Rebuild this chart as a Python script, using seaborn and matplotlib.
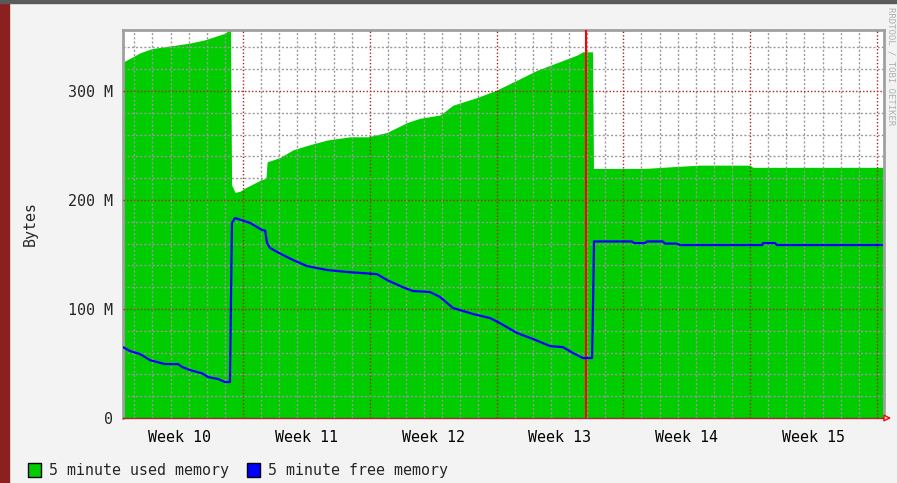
import numpy as np
import pandas as pd
import matplotlib
matplotlib.use("Agg")
import matplotlib.pyplot as plt
from matplotlib.patches import Rectangle, Patch
import seaborn as sns

# x in days from the start of week 10, memory in MB
used_days = [0.375, 0.76, 1.31, 1.98, 3.25, 4.07, 4.90, 5.45, 6.00, 6.31,
             6.37, 6.56, 6.83, 7.11, 7.94, 8.27, 8.33, 9.04, 9.76, 10.53,
             11.64, 12.91, 13.90, 14.95, 16.05, 16.77, 17.88, 18.59, 19.92, 21.02,
             22.13, 23.23, 24.34, 25.44, 25.77, 26.30, 26.35, 29.19, 31.13, 32.23,
             34.99, 35.15, 42.39]
used_mb = [326.6, 330, 335, 339, 342, 344, 347, 350, 353, 357,
           214, 207, 208, 211, 218, 220, 235, 239, 246, 250,
           255, 258, 258, 262, 271, 275, 278, 287, 294, 301,
           310, 319, 326, 333, 336, 336, 229, 229, 231, 232,
           232, 230, 230]

free_days = [0.375, 0.76, 1.31, 1.59, 1.87, 2.25, 2.69, 3.41, 3.64, 4.07,
             4.74, 5.07, 5.62, 6.00, 6.28, 6.39, 6.56, 6.83, 7.39, 8.05,
             8.22, 8.33, 8.49, 9.04, 9.76, 10.53, 11.64, 12.74, 14.40, 14.95,
             15.83, 16.38, 17.32, 17.88, 18.59, 19.70, 20.64, 21.19, 22.13, 23.01,
             23.95, 24.67, 25.22, 25.77, 26.27, 26.33, 26.38, 28.48, 28.59, 29.19,
             29.30, 30.18, 30.30, 30.96, 31.13, 35.66, 35.71, 36.37, 36.48, 42.28]
free_mb = [65, 61.5, 58.7, 56, 53, 51.4, 49.5, 49.5, 46.8, 44,
           41, 37.6, 35.8, 33, 33, 179, 183.5, 182, 179, 172.5,
           172, 160.5, 156, 151, 145, 139.4, 135.8, 134, 132, 126.6,
           120, 116.5, 115.6, 111, 101, 95.4, 91.7, 87, 78, 72.5,
           66, 65, 59.6, 55, 55, 108, 162, 162, 160.5, 160.5,
           162, 162, 160, 160, 158.7, 158.7, 160.5, 160.5, 158.7, 158.7]

week_labels = ["Week 10", "Week 11", "Week 12", "Week 13", "Week 14", "Week 15"]
y_labels = ["0", "100 M", "200 M", "300 M"]
legend_labels = ["5 minute used memory", "5 minute free memory"]
vrule_day = 25.93

sns.set_style("white")
plt.rcParams['font.family'] = ['DejaVu Sans Mono']

bg = "#f3f3f3"
fig = plt.figure(figsize=(8.97, 4.83), dpi=100, facecolor=bg)
ax = fig.add_axes([123 / 897, 65 / 483, 761 / 897, 388 / 483])
ax.set_facecolor("white")

# used memory area and free memory line
ax.fill_between(used_days, used_mb, 0, color="#00cc00", lw=0, zorder=1)
free_df = pd.DataFrame({"day": free_days, "mb": free_mb})
sns.lineplot(data=free_df, x="day", y="mb", ax=ax, color="#0000ff",
             linewidth=1.6, estimator=None, sort=False, zorder=4)
ax.axvline(vrule_day, color="#ff0000", lw=1.5, zorder=3)

ax.set_xlim(0.375, 42.39)
ax.set_ylim(0, 356)

# grid
ax.set_xticks(np.arange(7, 43, 7))
ax.set_xticks(np.arange(1, 43, 1), minor=True)
ax.set_yticks([0, 100, 200, 300])
ax.set_yticks(np.arange(20, 356, 20), minor=True)
ax.grid(which="minor", color="#9a9a9a", lw=1, ls=(0, (1.5, 1.5)), zorder=2)
ax.grid(which="major", color="#b02020", lw=1, ls=(0, (1, 1.5)), zorder=2)
ax.set_axisbelow(False)

ax.set_xticklabels([])
ax.set_yticklabels(y_labels, fontsize=10.8)
ax.tick_params(axis="both", which="major", direction="inout", length=6,
               color="#a02020", width=1)
ax.tick_params(axis="both", which="minor", direction="inout", length=4,
               color="#9a9a9a", width=1)
ax.tick_params(axis="y", pad=4)

for i, lab in enumerate(week_labels):
    ax.text(3.5 + 7 * i, -18, lab, ha="center", va="center", fontsize=10.8,
            color="black")

ax.set_xlabel("")
ax.set_ylabel("Bytes", fontsize=10.8)
ax.yaxis.set_label_coords(-0.112, 0.5)

for s in ["top", "right", "left"]:
    ax.spines[s].set_color("#a0a0a0")
    ax.spines[s].set_linewidth(2)
ax.spines["bottom"].set_color("#a03030")
ax.spines["bottom"].set_linewidth(1)

ax.annotate("", xy=(1.013, 0), xytext=(0.995, 0), xycoords="axes fraction",
            arrowprops=dict(arrowstyle="-|>", color="#ff0000", lw=1,
                            mutation_scale=10, fc=bg), annotation_clip=False)

# frame decorations
fig.patches.append(Rectangle((0, 0), 9 / 897, 1, transform=fig.transFigure,
                             color="#8b2020", zorder=0))
fig.patches.append(Rectangle((0, 1 - 3 / 483), 1, 3 / 483, transform=fig.transFigure,
                             color="#5a5a5a", zorder=0))
fig.text(0.993, 0.985, "RRDTOOL / TOBI OETIKER", rotation=270, ha="center",
         va="top", fontsize=6.5, color="#b0b0b0")

handles = [Patch(facecolor="#00cc00", edgecolor="black"),
           Patch(facecolor="#0000ff", edgecolor="black")]
fig.legend(handles, legend_labels, loc="lower left", bbox_to_anchor=(0.016, -0.018),
           ncol=2, frameon=False, fontsize=10.8, handlelength=0.9, handleheight=1.1,
           handletextpad=0.5, columnspacing=1.2)

fig.savefig("out.png", dpi=100, facecolor=bg)
